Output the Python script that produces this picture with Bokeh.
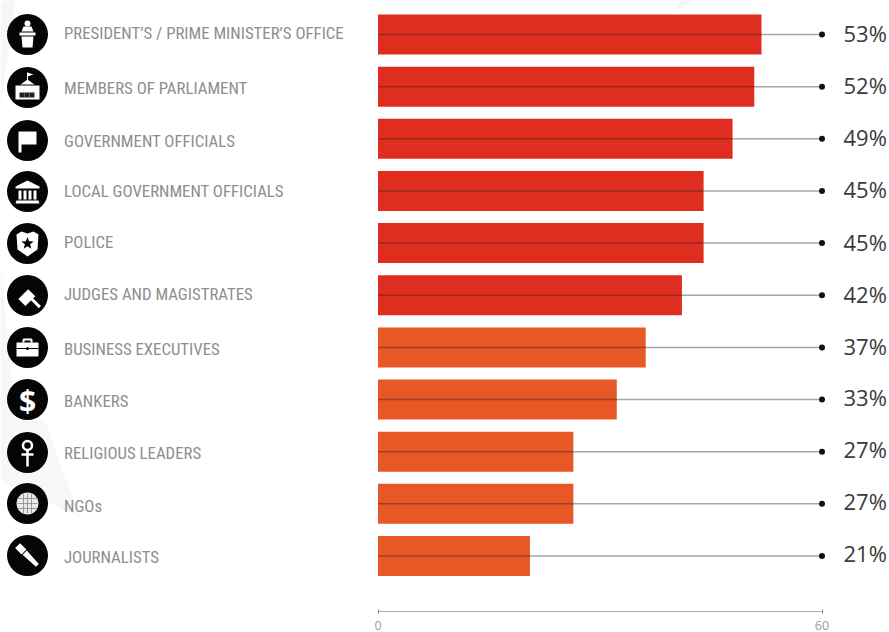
import math
from bokeh.core.properties import value
from bokeh.embed import file_html
from bokeh.models import FixedTicker, LinearAxis, Range1d
from bokeh.plotting import figure
from bokeh.resources import INLINE

categories = ["PRESIDENT’S / PRIME MINISTER’S OFFICE", "MEMBERS OF PARLIAMENT", "GOVERNMENT OFFICIALS",
              "LOCAL GOVERNMENT OFFICIALS", "POLICE", "JUDGES AND MAGISTRATES", "BUSINESS EXECUTIVES",
              "BANKERS", "RELIGIOUS LEADERS", "NGOs", "JOURNALISTS"]
values = [53, 52, 49, 45, 45, 42, 37, 33, 27, 27, 21]
axis_ticks = [0, 60]

W, FRAME_H = 889, 611
RED, ORANGE = "#DF2E1F", "#E85726"
colors = [RED] * 6 + [ORANGE] * 5
rows = list(range(len(values)))
row_px, first_row = 52.15, 34.0
bar_px = 7.236          # horizontal pixels per percentage point for the bars
axis_px = 7.4           # the printed 0-60 rule is drawn slightly wider than the bars' scale
zero_x = 377.5

p = figure(frame_width=W, frame_height=FRAME_H, output_backend="svg", toolbar_location=None,
           x_range=Range1d(-zero_x / bar_px, (W - zero_x) / bar_px),
           y_range=Range1d((FRAME_H - first_row) / row_px, -first_row / row_px),
           x_axis_location=None, y_axis_location=None, min_border=0, outline_line_color=None)
p.grid.visible = False
p.extra_x_ranges = {"rule": Range1d(-zero_x / axis_px, (W - zero_x) / axis_px), "px": Range1d(0, W)}
p.extra_y_ranges = {"px": Range1d(FRAME_H, 0)}

def px_patch(xs, ys, color):
    p.patch(xs, ys, fill_color=color, line_color=None, x_range_name="px", y_range_name="px")

# faint background shapes behind the chart
px_patch([0, 15, 0], [0, 0, 107], "#F7F7F7")
px_patch([0, 15, 30, 45, 60, 80, 55, 25, 0], [260, 420, 420, 420, 465, 517, 505, 495, 480], "#F7F7F7")
px_patch([680, 692, 675], [0, 0, 10], "#F4F4F4")

# bars, leader lines, end dots
p.hbar(y=rows, left=0, right=values, height=40 / row_px, fill_color=colors, line_color=None)
p.segment(x0=[0] * len(rows), x1=[60] * len(rows), y0=rows, y1=rows, x_range_name="rule",
          line_color="#222222", line_alpha=0.4, line_width=1.5)
p.scatter(x=[60] * len(rows), y=rows, x_range_name="rule", size=6, fill_color="#111111", line_color=None)

value_y = [32, 84, 136, 188, 241, 293, 345, 396, 448, 500, 552]
p.text(x=[843] * len(rows), y=value_y, x_range_name="px", y_range_name="px",
       text=[f"{v}%" for v in values], text_font=value("Open Sans"), text_font_size="22px",
       text_color="#3A3A3A", text_align="left", text_baseline="middle")

label_y = [32.5, 87.3, 140.7, 190, 241.7, 293, 348, 400.7, 452.7, 505, 556]
p.text(x=[63.5] * len(rows), y=label_y, x_range_name="px", y_range_name="px", text=categories,
       text_font=value("Roboto Condensed"), text_font_size="16.8px", text_color="#8E8E8E",
       text_align="left", text_baseline="middle")

# round icons
icon_x, icon_y = 27, [34, 87, 140, 191, 243, 295, 347, 399, 452, 503, 555]
p.scatter(x=[icon_x] * len(rows), y=icon_y, x_range_name="px", y_range_name="px", size=41,
          fill_color="#050505", line_color=None)

def rot(points, deg):
    a = math.radians(deg)
    return [(x * math.cos(a) - y * math.sin(a), x * math.sin(a) + y * math.cos(a)) for x, y in points]

def shape(i, points, color="white", deg=0):
    pts = rot(points, deg)
    px_patch([icon_x + x for x, _ in pts], [icon_y[i] + y for _, y in pts], color)

def stroke(i, points, color="white", width=1.5):
    p.line([icon_x + x for x, _ in points], [icon_y[i] + y for _, y in points], line_color=color,
           line_width=width, x_range_name="px", y_range_name="px")

def dot(i, dx, dy, size, color="white", line=None, lw=1):
    p.scatter([icon_x + dx], [icon_y[i] + dy], size=size, fill_color=color, line_color=line, line_width=lw,
              x_range_name="px", y_range_name="px")

# lectern
dot(0, 0, -11, 6)
shape(0, [(-4, -8), (4, -8), (6, -3), (-6, -3)])
shape(0, [(-8, -2), (8, -2), (8, 1), (-8, 1)])
shape(0, [(-6, 2), (6, 2), (5, 13), (-5, 13)])
# parliament
stroke(1, [(0, -7), (0, -15)], width=1)
shape(1, [(0, -15), (6, -13), (0, -11)])
shape(1, [(-7, -3), (0, -8), (7, -3)])
shape(1, [(-12, -2), (12, -2), (12, 12), (-12, 12)])
for dx in (-8, -3, 2):
    shape(1, [(dx, 5), (dx + 5, 5), (dx + 5, 10), (dx, 10)], "#222222")
# flag
shape(2, [(-9, -9), (9, -9), (9, 4), (-6, 4), (-6, 12), (-9, 12)])
# columns
shape(3, [(0, -11), (12, -5), (12, -3), (-12, -3), (-12, -5)])
shape(3, [(-11, 9), (11, 9), (12, 12), (-12, 12)])
for dx in (-9, -4, 1, 6):
    shape(3, [(dx, -1), (dx + 3, -1), (dx + 3, 8), (dx, 8)])
# police badge
shape(4, [(-11, -9), (-6, -12), (0, -10), (6, -12), (11, -9), (10, 6), (0, 13), (-10, 6)])
star = [(6.5 * math.sin(k * math.pi / 5) * (1 if k % 2 == 0 else 0.42),
         -6.5 * math.cos(k * math.pi / 5) * (1 if k % 2 == 0 else 0.42)) for k in range(10)]
shape(4, star, "#050505")
# gavel
shape(5, [(-9, -4), (5, -4), (5, 6), (-9, 6)], deg=-45)
shape(5, [(-1, 3), (2, 3), (2, 17), (-1, 17)], deg=-45)
# briefcase
shape(6, [(-11, -5), (11, -5), (11, 9), (-11, 9)])
stroke(6, [(-4, -5), (-4, -8), (4, -8), (4, -5)], width=2)
stroke(6, [(-11, 1), (11, 1)], "#050505", 1)
dot(6, 0, 1, 3, "#050505")
# dollar
p.text([icon_x], [icon_y[7] + 1], text=["$"], x_range_name="px", y_range_name="px", text_font=value("Open Sans"),
       text_font_style="bold", text_font_size="30px", text_color="white", text_align="center",
       text_baseline="middle")
# ankh
dot(8, 0, -7, 9, "#050505", "white", 2.5)
stroke(8, [(0, -2), (0, 14)], width=2.5)
stroke(8, [(-6, 2), (6, 2)], width=2.5)
# globe
dot(9, 0, 0, 22, "#E8E8E8")
for dy in (-5, 0, 5):
    stroke(9, [(-10, dy), (10, dy)], "#888888", 0.8)
for dx in (-4, 0, 4):
    stroke(9, [(dx, -10), (dx, 10)], "#888888", 0.8)
# microphone
shape(10, [(-14, -3.5), (-5, -3.5), (-5, 3.5), (-14, 3.5)], deg=45)
shape(10, [(-4, -3), (14, -2), (14, 2), (-4, 3)], deg=45)

rule = LinearAxis(x_range_name="rule", ticker=FixedTicker(ticks=axis_ticks), bounds=(0, 60))
rule.axis_line_color = "#AAAAAA"
rule.major_tick_line_color = "#888888"
rule.major_tick_in = 2
rule.major_tick_out = 2
rule.minor_tick_line_color = None
rule.major_label_standoff = 7
rule.major_label_text_font = "Open Sans"
rule.major_label_text_font_size = "12.5px"
rule.major_label_text_color = "#9A9A9A"
p.add_layout(rule, "below")

open("out.html", "w").write(file_html(p, INLINE))
